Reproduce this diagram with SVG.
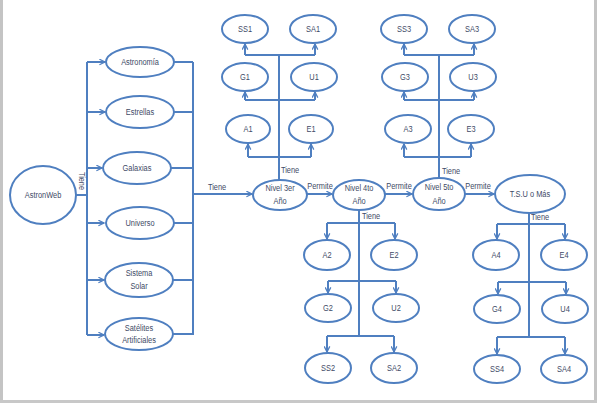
<svg xmlns="http://www.w3.org/2000/svg" width="597" height="403" viewBox="0 0 597 403">
<defs>
<marker id="arr" viewBox="0 0 10 10" refX="9" refY="5" markerWidth="7" markerHeight="7" markerUnits="userSpaceOnUse" orient="auto">
<polyline points="1,1 9,5 1,9" fill="none" stroke="#4f7fc0" stroke-width="1.8"/>
</marker>
</defs>
<style>
.n ellipse{fill:#fff;stroke:#4f7fc0;stroke-width:2}
text{font-family:"Liberation Sans",Arial,sans-serif;font-size:9.5px;fill:#3e4a66;text-anchor:middle;transform-box:fill-box;transform-origin:center;transform:scaleX(0.78)}
text.v{transform:none}
.c path,.c line{fill:none;stroke:#4f7fc0;stroke-width:2}
.a{marker-end:url(#arr)}
</style>
<rect x="0" y="0" width="597" height="403" fill="#fff"/>
<rect x="0" y="0" width="3" height="403" fill="#c4c4c4"/>
<rect x="594" y="0" width="3" height="403" fill="#c4c4c4"/>
<rect x="0" y="400" width="597" height="3" fill="#c8c8c8"/>

<g class="c" id="connectors">
<path d="M76,195 H87 M87,62 V335"/>
<path class="a" d="M87,62 H105"/>
<path class="a" d="M87,112 H105"/>
<path class="a" d="M87,168 H102"/>
<path class="a" d="M87,223 H104"/>
<path class="a" d="M87,280 H104"/>
<path class="a" d="M87,335 H104"/>
<path d="M174,62 H193 M174,112 H193 M171,168 H193 M174,223 H193 M173,280 H193 M173,334 H193 M193,62 V335"/>
<path class="a" d="M193,194 H252"/>
<path class="a" d="M307,194 H332"/>
<path class="a" d="M385,194 H412"/>
<path class="a" d="M465,194 H494"/>
<path d="M279,180 V55 M245,55 H315 M245,100 H315 M248,157 H311"/>
<path class="a" d="M245,55 V44"/>
<path class="a" d="M315,55 V44"/>
<path class="a" d="M245,100 V92"/>
<path class="a" d="M315,100 V92"/>
<path class="a" d="M248,157 V144"/>
<path class="a" d="M311,157 V144"/>
<path d="M439,178 V55 M404,55 H474 M404,100 H474 M404,157 H471"/>
<path class="a" d="M404,55 V44"/>
<path class="a" d="M474,55 V44"/>
<path class="a" d="M404,100 V92"/>
<path class="a" d="M474,100 V92"/>
<path class="a" d="M404,157 V144"/>
<path class="a" d="M471,157 V144"/>
<path d="M359,210 V336 M327,223 H395 M328,281 H396 M327,336 H394"/>
<path class="a" d="M327,223 V239"/>
<path class="a" d="M395,223 V239"/>
<path class="a" d="M328,281 V293"/>
<path class="a" d="M396,281 V293"/>
<path class="a" d="M327,336 V352"/>
<path class="a" d="M394,336 V352"/>
<path d="M529,213 V337 M497,224 H565 M498,282 H566 M497,337 H565"/>
<path class="a" d="M497,224 V239"/>
<path class="a" d="M565,224 V239"/>
<path class="a" d="M498,282 V294"/>
<path class="a" d="M566,282 V294"/>
<path class="a" d="M497,337 V354"/>
<path class="a" d="M565,337 V354"/>
</g>

<g id="labels">
<g transform="translate(79,181) rotate(90)"><text class="v" x="0" y="0" textLength="18" lengthAdjust="spacingAndGlyphs">Tiene</text></g>
<text x="217" y="190">Tiene</text>
<text x="320" y="189">Permite</text>
<text x="399" y="189">Permite</text>
<text x="478" y="189">Permite</text>
<text x="290" y="173">Tiene</text>
<text x="451" y="174">Tiene</text>
<text x="371" y="219">Tiene</text>
<text x="540" y="220">Tiene</text>
</g>

<g class="n" id="astronweb"><ellipse cx="43" cy="195" rx="33" ry="29"/><text x="43" y="198">AstronWeb</text></g>
<g class="n" id="astronomia"><ellipse cx="140" cy="62" rx="34" ry="15"/><text x="140" y="65">Astronomía</text></g>
<g class="n" id="estrellas"><ellipse cx="140" cy="112" rx="34" ry="16"/><text x="140" y="115">Estrellas</text></g>
<g class="n" id="galaxias"><ellipse cx="137" cy="168" rx="34" ry="16"/><text x="137" y="171">Galaxias</text></g>
<g class="n" id="universo"><ellipse cx="140" cy="223" rx="34" ry="16"/><text x="140" y="226">Universo</text></g>
<g class="n" id="sistema"><ellipse cx="139" cy="280" rx="34" ry="17"/><text x="139" y="276">Sistema</text><text x="139" y="289">Solar</text></g>
<g class="n" id="satelites"><ellipse cx="139" cy="334" rx="34" ry="16"/><text x="139" y="331">Satélites</text><text x="139" y="343">Artificiales</text></g>

<g class="n" id="nivel3"><ellipse cx="280" cy="195" rx="27" ry="15"/><text x="280" y="191">Nivel 3er</text><text x="280" y="204">Año</text></g>
<g class="n" id="nivel4"><ellipse cx="359" cy="195" rx="26" ry="15"/><text x="359" y="191">Nivel 4to</text><text x="359" y="204">Año</text></g>
<g class="n" id="nivel5"><ellipse cx="439" cy="194" rx="26" ry="16"/><text x="439" y="190">Nivel 5to</text><text x="439" y="204">Año</text></g>
<g class="n" id="tsu"><ellipse cx="530" cy="194" rx="35" ry="19"/><text x="530" y="197">T.S.U o Más</text></g>

<g class="n" id="ss1"><ellipse cx="245" cy="29" rx="23" ry="14"/><text x="245" y="32">SS1</text></g>
<g class="n" id="sa1"><ellipse cx="313" cy="29" rx="23" ry="14"/><text x="313" y="32">SA1</text></g>
<g class="n" id="g1"><ellipse cx="245" cy="77" rx="23" ry="14"/><text x="245" y="80">G1</text></g>
<g class="n" id="u1"><ellipse cx="314" cy="77" rx="23" ry="14"/><text x="314" y="80">U1</text></g>
<g class="n" id="a1"><ellipse cx="248" cy="129" rx="22" ry="14"/><text x="248" y="132">A1</text></g>
<g class="n" id="e1"><ellipse cx="311" cy="129" rx="22" ry="14"/><text x="311" y="132">E1</text></g>

<g class="n" id="ss3"><ellipse cx="404" cy="29" rx="23" ry="14"/><text x="404" y="32">SS3</text></g>
<g class="n" id="sa3"><ellipse cx="472" cy="29" rx="23" ry="14"/><text x="472" y="32">SA3</text></g>
<g class="n" id="g3"><ellipse cx="405" cy="77" rx="23" ry="14"/><text x="405" y="80">G3</text></g>
<g class="n" id="u3"><ellipse cx="473" cy="77" rx="23" ry="14"/><text x="473" y="80">U3</text></g>
<g class="n" id="a3"><ellipse cx="408" cy="129" rx="23" ry="14"/><text x="408" y="132">A3</text></g>
<g class="n" id="e3"><ellipse cx="471" cy="129" rx="23" ry="14"/><text x="471" y="132">E3</text></g>

<g class="n" id="a2"><ellipse cx="327" cy="255" rx="23" ry="15"/><text x="327" y="258">A2</text></g>
<g class="n" id="e2"><ellipse cx="394" cy="255" rx="23" ry="15"/><text x="394" y="258">E2</text></g>
<g class="n" id="g2"><ellipse cx="328" cy="308" rx="23" ry="14"/><text x="328" y="311">G2</text></g>
<g class="n" id="u2"><ellipse cx="396" cy="308" rx="23" ry="14"/><text x="396" y="311">U2</text></g>
<g class="n" id="ss2"><ellipse cx="328" cy="368" rx="23" ry="15"/><text x="328" y="371">SS2</text></g>
<g class="n" id="sa2"><ellipse cx="394" cy="368" rx="23" ry="15"/><text x="394" y="371">SA2</text></g>

<g class="n" id="a4"><ellipse cx="496" cy="255" rx="23" ry="15"/><text x="496" y="258">A4</text></g>
<g class="n" id="e4"><ellipse cx="564" cy="255" rx="23" ry="15"/><text x="564" y="258">E4</text></g>
<g class="n" id="g4"><ellipse cx="497" cy="309" rx="23" ry="14"/><text x="497" y="312">G4</text></g>
<g class="n" id="u4"><ellipse cx="565" cy="309" rx="23" ry="14"/><text x="565" y="312">U4</text></g>
<g class="n" id="ss4"><ellipse cx="497" cy="369" rx="23" ry="14"/><text x="497" y="372">SS4</text></g>
<g class="n" id="sa4"><ellipse cx="564" cy="369" rx="23" ry="14"/><text x="564" y="372">SA4</text></g>
</svg>
